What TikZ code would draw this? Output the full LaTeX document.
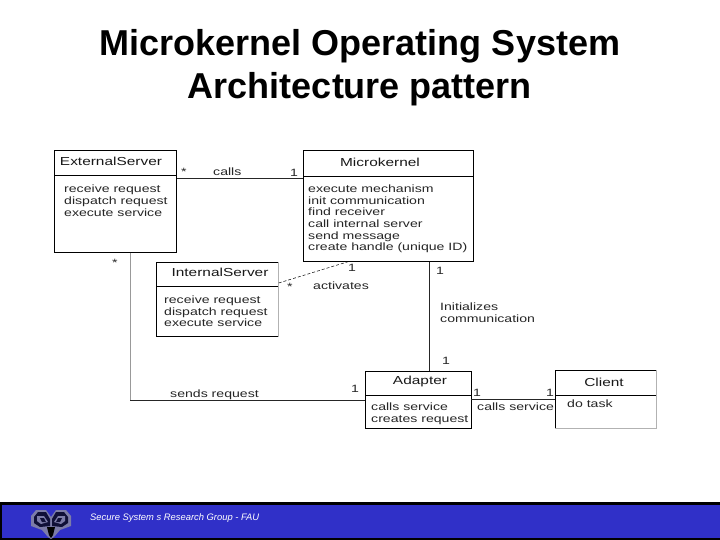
\documentclass[tikz,border=0pt]{standalone}
\usepackage{fontspec}
\setmainfont{Liberation Sans}
\newfontfamily\widefont[FakeStretch=1.33]{Liberation Sans}
\definecolor{barblue}{HTML}{3030C8}
\definecolor{owldark}{HTML}{101038}
\definecolor{owlgrey}{HTML}{7C7CA8}
\tikzset{
  umlbox/.style={draw=black,line width=0.7pt,fill=white,minimum width=#1,inner sep=0pt,anchor=north west},
  rule/.style={line width=0.7pt},
  conn/.style={line width=0.7pt,draw=black!85},
  faint/.style={line width=0.8pt,draw=black!30},
  lab/.style={font=\widefont\fontsize{10.6}{12}\selectfont,inner sep=0pt,anchor=west,text=black!85},
  cls/.style={font=\widefont\fontsize{11.6}{13}\selectfont,inner sep=0pt,text=black!90},
  ops/.style={font=\widefont\fontsize{10.6}{11.7}\selectfont,inner sep=0pt,anchor=north west,align=left,text=black!85},
  titletext/.style={font=\bfseries\fontsize{36}{43}\selectfont,align=center,inner sep=0pt}
}
\begin{document}
\begin{tikzpicture}[x=1pt,y=-1pt]
\useasboundingbox (0,0) rectangle (720,540);
\fill[white] (0,0) rectangle (720,540);
\node[titletext] (title) at (360,68) {Microkernel Operating System\\Architecture pattern};
% boxes
\node[umlbox=122pt,minimum height=102pt] (ext) at (54,150) {};
\node[umlbox=170pt,minimum height=111pt] (mk) at (303,150) {};
\node[umlbox=122pt,minimum height=74pt] (int) at (156,262) {};
\node[umlbox=106pt,minimum height=57pt] (ad) at (365,371) {};
\node[umlbox=101pt,minimum height=58pt] (cl) at (555,370) {};
% lighter box edges
\draw[faint] (int.north east) -- (int.south east);
\draw[faint] (cl.north east) -- (cl.south east) -- (cl.south west);
% dividers
\draw[rule] (54,175) -- (176,175);
\draw[rule] (303,176) -- (473,176);
\draw[rule] (156,286) -- (278,286);
\draw[rule] (365,395) -- (471,395);
\draw[rule] (555,395) -- (656,395);
% class names
\node[cls] (extn) at (111,161) {ExternalServer};
\node[cls] (mkn) at (380,162) {Microkernel};
\node[cls] (intn) at (220,272) {InternalServer};
\node[cls] (adn) at (420,381) {Adapter};
\node[cls] (cln) at (604,382) {Client};
% operations
\node[ops] (extop) at (64,185) {receive request\\dispatch request\\execute service};
\node[ops] (mkop) at (308,184.5) {execute mechanism\\init communication\\find receiver\\call internal server\\send message\\create handle (unique ID)};
\node[ops] (intop) at (164,295.5) {receive request\\dispatch request\\execute service};
\node[ops] (adop) at (371,403) {calls service\\creates request};
\node[ops] (clop) at (567,399.5) {do task};
% connectors
\coordinate (c1) at (176,178);
\coordinate (bend) at (130,400);
\coordinate (ini) at (429,300);
\coordinate (acA) at (277,283);
\coordinate (acB) at (348,261);
\coordinate (ac) at (471,399);
\draw[conn] (ext.east |- c1) -- (mk.west |- c1);
\draw[conn,draw=black!40] (ext.south -| bend) -- (bend);
\draw[conn] (bend) -- (ad.west |- bend);
\draw[conn] (mk.south -| ini) -- (ad.north -| ini);
\draw[conn] (ac) -- (cl.west |- ac);
\draw[line width=0.5pt,densely dashed] (int.east |- acA) -- (mk.south -| acB);
% labels
\node[lab] (l1) at (213,172) {calls};
\node[lab] (l2) at (181,172) {*};
\node[lab] (l3) at (290,173) {1};
\node[lab] (l4) at (112,263) {*};
\node[lab] (l5) at (287,287) {*};
\node[lab] (l6) at (313,286) {activates};
\node[lab] (l7) at (348,268) {1};
\node[lab] (l8) at (436,271) {1};
\node[lab,align=left] (l9) at (440,313) {Initializes\\communication};
\node[lab] (l10) at (442,361) {1};
\node[lab] (l11) at (170,394.5) {sends request};
\node[lab] (l12) at (351,389) {1};
\node[lab] (l13) at (473,393) {1};
\node[lab] (l14) at (546,393) {1};
\node[lab] (l15) at (477,407) {calls service};
% footer bar
\fill[black] (0,502) rectangle (720,540);
\fill[barblue] (2,505) rectangle (720,538);
% owl logo
\fill[owlgrey] (31,516) -- (36,510) -- (46,510) -- (51,517) -- (56,510) -- (66,510) -- (71,516) -- (71,526) -- (60,530) -- (54,537) -- (51,539) -- (48,537) -- (42,530) -- (31,526) -- cycle;
\fill[owldark] (34,517) -- (38,512) -- (46,512) -- (50,519) -- (50,526) -- (40,527) -- (34,523) -- cycle;
\fill[owldark] (68,517) -- (64,512) -- (56,512) -- (52,519) -- (52,526) -- (62,527) -- (68,523) -- cycle;
\fill[owlgrey] (37,516) -- (44,516) -- (48,522) -- (41,524) -- (37,521) -- cycle;
\fill[owlgrey] (65,516) -- (58,516) -- (54,522) -- (61,524) -- (65,521) -- cycle;
\fill[owldark] (40,518) -- (44,518) -- (46,522) -- (42,522) -- cycle;
\fill[owldark] (62,518) -- (58,518) -- (56,522) -- (60,522) -- cycle;
\fill[black] (47,527) -- (55,527) -- (53,535) -- (51,538) -- (49,535) -- cycle;
\node[font=\itshape\fontsize{9.4}{11}\selectfont,text=white,inner sep=0pt,anchor=west] (foot) at (90,518) {Secure System s Research Group - FAU};
\end{tikzpicture}
\end{document}
